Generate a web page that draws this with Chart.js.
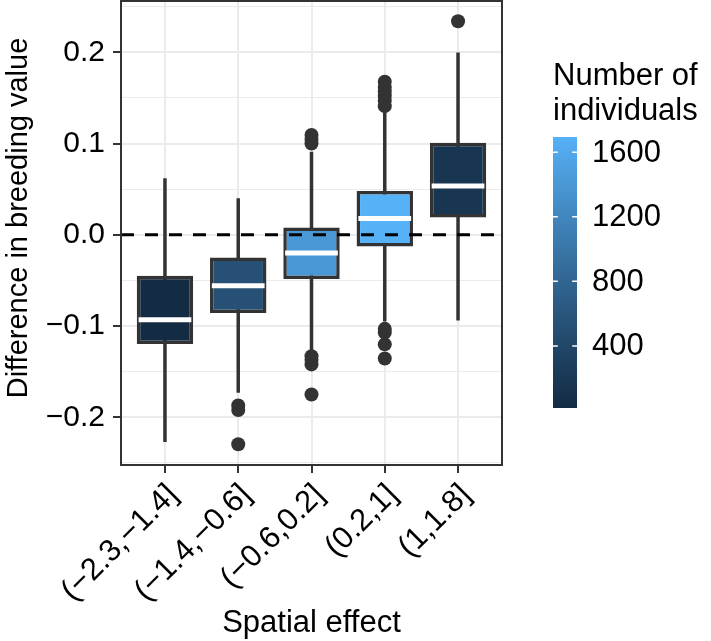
<!DOCTYPE html>
<html><head><meta charset="utf-8">
<script src="https://cdn.jsdelivr.net/npm/chart.js@4.4.1/dist/chart.umd.min.js"></script>
<style>html,body{margin:0;padding:0;background:#fff}</style>
</head><body>
<canvas id="c" width="711" height="641"></canvas>
<script>
// ---------------- data ----------------
const CATEGORIES = ['(−2.3,−1.4]','(−1.4,−0.6]','(−0.6,0.2]','(0.2,1]','(1,1.8]'];
const WHISKER_LO = [-0.227,-0.173,-0.128,-0.095,-0.094];
const Q1         = [-0.1195,-0.0856,-0.0484,-0.0128,0.019];
const MEDIAN     = [-0.093,-0.0557,-0.020,0.018,0.0536];
const Q3         = [-0.0448,-0.0248,0.008,0.048,0.1009];
const WHISKER_HI = [0.062,0.040,0.091,0.134,0.1997];
const OUTLIERS   = [
  [],
  [-0.187,-0.192,-0.2295],
  [0.1095,0.105,0.100,-0.133,-0.137,-0.142,-0.175],
  [0.1678,0.162,0.157,0.152,0.147,0.141,-0.103,-0.107,-0.120,-0.1355],
  [0.234]
];
const COUNTS = [15,519,1393,1695,166];
const Y_MAJOR_TICKS = [-0.2,-0.1,0,0.1,0.2];
const Y_TICK_LABELS = ['−0.2','−0.1','0.0','0.1','0.2'];
const Y_MINOR_TICKS = [-0.25,-0.15,-0.05,0.05,0.15,0.25];
const LEGEND_TICKS = [400,800,1200,1600];
const LEGEND_TITLE = ['Number of','individuals'];
const X_TITLE = 'Spatial effect';
const Y_TITLE = 'Difference in breeding value';

// ---------------- style ----------------
const FONT = '"Liberation Sans", Arial, Helvetica, sans-serif';
const X_MIN = 0.4, X_MAX = 5.6;
const Y_MIN = -0.2522, Y_MAX = 0.2562;
const BOX_W = 0.77;
const LOW = '#132B43', HIGH = '#56B1F7';

// Lab interpolation (like ggplot's gradient)
function hexToRgb(h){h=h.replace('#','');return [0,2,4].map(i=>parseInt(h.substr(i,2),16));}
function s2l(c){c/=255;return c<=0.04045?c/12.92:Math.pow((c+0.055)/1.055,2.4);}
function l2s(c){const v=c<=0.0031308?12.92*c:1.055*Math.pow(c,1/2.4)-0.055;return Math.round(Math.max(0,Math.min(1,v))*255);}
const WP=[0.95047,1,1.08883];
function rgbToLab(rgb){
  const [r,g,b]=rgb.map(s2l);
  const X=(0.4124*r+0.3576*g+0.1805*b)/WP[0], Y=(0.2126*r+0.7152*g+0.0722*b)/WP[1], Z=(0.0193*r+0.1192*g+0.9505*b)/WP[2];
  const f=t=>t>0.008856?Math.cbrt(t):7.787*t+16/116;
  const fx=f(X),fy=f(Y),fz=f(Z);
  return [116*fy-16,500*(fx-fy),200*(fy-fz)];
}
function labToRgb([L,a,b]){
  const fy=(L+16)/116, fx=fy+a/500, fz=fy-b/200;
  const fi=t=>t*t*t>0.008856?t*t*t:(t-16/116)/7.787;
  const X=fi(fx)*WP[0],Y=fi(fy)*WP[1],Z=fi(fz)*WP[2];
  const r= 3.2406*X-1.5372*Y-0.4986*Z, g=-0.9689*X+1.8758*Y+0.0415*Z, bb=0.0557*X-0.2040*Y+1.0570*Z;
  return [l2s(r),l2s(g),l2s(bb)];
}
const LAB_LO=rgbToLab(hexToRgb(LOW)), LAB_HI=rgbToLab(hexToRgb(HIGH));
const CMIN=Math.min(...COUNTS), CMAX=Math.max(...COUNTS);
function colorAt(t){
  const lab=LAB_LO.map((v,i)=>v+(LAB_HI[i]-v)*t);
  const [r,g,b]=labToRgb(lab);return `rgb(${r},${g},${b})`;
}
function colorFor(v){return colorAt((v-CMIN)/(CMAX-CMIN));}

const xs = CATEGORIES.map((_,i)=>i+1);
const isMajor = v => Y_MAJOR_TICKS.some(m=>Math.abs(m-v)<1e-9);
const hw = BOX_W/2 - 0.025;

const whiskerData = xs.flatMap((x,i)=>[{x,y:WHISKER_LO[i]},{x,y:WHISKER_HI[i]},{x,y:null}]);
const medianData = xs.flatMap((x,i)=>[{x:x-hw,y:MEDIAN[i]},{x:x+hw,y:MEDIAN[i]},{x,y:null}]);
const boxData = xs.map((x,i)=>({x,y:[Q1[i],Q3[i]]}));
const outlierData = xs.flatMap((x,i)=>OUTLIERS[i].map(y=>({x,y})));

const framePlugin = {
  id:'frame',
  afterDraw(chart){
    const {ctx, chartArea:a} = chart;
    ctx.save();
    ctx.strokeStyle='#333333'; ctx.lineWidth=2;
    ctx.strokeRect(a.left, a.top, a.right-a.left, a.bottom-a.top);
    // y axis title
    ctx.save();
    ctx.translate(18.5, 218);
    ctx.rotate(-Math.PI/2);
    ctx.font='29px '+FONT; ctx.fillStyle='#000'; ctx.textAlign='center'; ctx.textBaseline='middle';
    ctx.fillText(Y_TITLE,0,0);
    ctx.restore();
    // colour bar legend
    const CB={x:553,y:137,w:24,h:271};
    const grad=ctx.createLinearGradient(0,CB.y+CB.h,0,CB.y);
    for(let k=0;k<=30;k++){grad.addColorStop(k/30,colorAt(k/30));}
    ctx.fillStyle=grad; ctx.fillRect(CB.x,CB.y,CB.w,CB.h);
    ctx.strokeStyle='#ffffff'; ctx.lineWidth=1.5;
    ctx.font='31px '+FONT; ctx.fillStyle='#000'; ctx.textAlign='left'; ctx.textBaseline='middle';
    LEGEND_TICKS.forEach(v=>{
      const y=CB.y+(CMAX-v)/(CMAX-CMIN)*CB.h;
      ctx.beginPath();
      ctx.moveTo(CB.x,y);ctx.lineTo(CB.x+CB.w/5,y);
      ctx.moveTo(CB.x+CB.w*4/5,y);ctx.lineTo(CB.x+CB.w,y);
      ctx.stroke();
      ctx.fillText(String(v),CB.x+CB.w+15,y+1);
    });
    ctx.textBaseline='alphabetic';
    LEGEND_TITLE.forEach((t,i)=>ctx.fillText(t,553,85+i*35));
    ctx.restore();
  }
};

const zeroPad = s=>{s.paddingTop=0;s.paddingBottom=0;s.paddingLeft=0;s.paddingRight=0;};

new Chart(document.getElementById('c'),{
  type:'bar',
  data:{datasets:[
    {type:'line',data:[{x:X_MIN,y:0},{x:X_MAX,y:0}],borderColor:'#000',borderWidth:3,borderDash:[13,11],pointRadius:0,order:0},
    {type:'scatter',data:outlierData,pointRadius:7,pointHoverRadius:7,backgroundColor:'#333333',borderWidth:0,order:1},
    {type:'line',data:medianData,borderColor:'#ffffff',borderWidth:5,borderCapStyle:'butt',pointRadius:0,spanGaps:false,order:2},
    {type:'bar',data:boxData,backgroundColor:COUNTS.map(colorFor),borderColor:'#333333',borderWidth:3.5,borderSkipped:false,barPercentage:BOX_W,categoryPercentage:1,order:3},
    {type:'line',data:whiskerData,borderColor:'#333333',borderWidth:3.5,pointRadius:0,spanGaps:false,order:4}
  ]},
  options:{
    responsive:false, animation:false, devicePixelRatio:1,
    layout:{autoPadding:false,padding:{top:1,right:209,bottom:0,left:0}},
    plugins:{legend:{display:false},tooltip:{enabled:false}},
    scales:{
      x:{type:'linear',min:X_MIN,max:X_MAX,offset:false,
        afterBuildTicks:s=>{s.ticks=xs.map(v=>({value:v}));},
        afterFit:s=>{s.height=176;zeroPad(s);},
        ticks:{autoSkip:false,minRotation:45,maxRotation:45,padding:4,labelOffset:8,color:'#000',font:{family:FONT,size:31},
          callback:(v,i)=>CATEGORIES[i]},
        grid:{offset:false,color:'#EBEBEB',lineWidth:2,tickColor:'#333333',tickWidth:2,tickLength:8},
        border:{display:false},
        title:{display:true,text:X_TITLE,color:'#000',font:{family:FONT,size:31},padding:{top:0,bottom:-1}}
      },
      y:{type:'linear',min:Y_MIN,max:Y_MAX,
        afterBuildTicks:s=>{s.ticks=[...Y_MINOR_TICKS,...Y_MAJOR_TICKS].sort((a,b)=>a-b).map(v=>({value:v}));},
        afterFit:s=>{s.width=121;zeroPad(s);},
        ticks:{autoSkip:false,padding:8,color:'#000',font:{family:FONT,size:30},
          callback:(v)=>{const k=Y_MAJOR_TICKS.findIndex(m=>Math.abs(m-v)<1e-9);return k<0?'':Y_TICK_LABELS[k];}},
        grid:{color:'#EBEBEB',lineWidth:c=>isMajor(c.tick.value)?2:1,
          tickColor:c=>isMajor(c.tick.value)?'#333333':'rgba(0,0,0,0)',tickWidth:2,tickLength:8},
        border:{display:false},
        title:{display:false}
      }
    }
  },
  plugins:[framePlugin]
});
</script>
</body></html>
